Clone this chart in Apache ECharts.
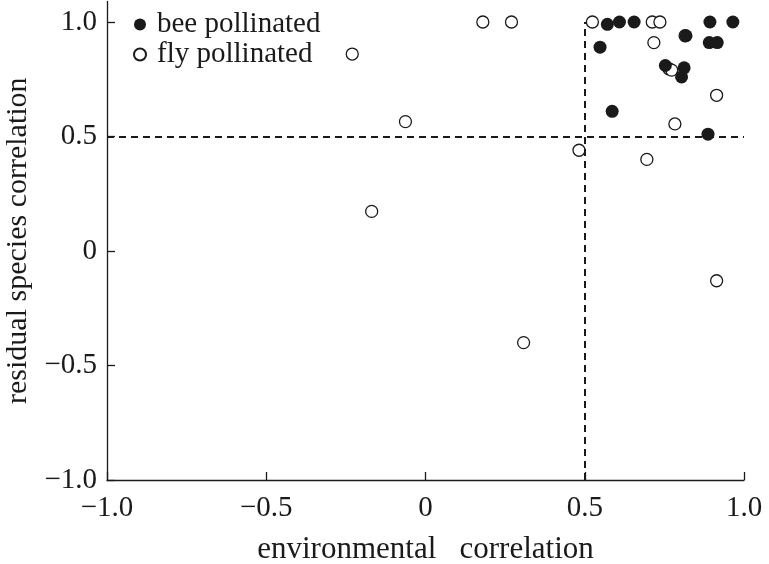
<!DOCTYPE html>
<html>
<head>
<meta charset="utf-8">
<script src="https://cdn.jsdelivr.net/npm/echarts@6/dist/echarts.min.js"></script>
<style>
  html, body { margin: 0; padding: 0; background: #fff; }
  #chart { width: 769px; height: 564px; }
</style>
</head>
<body>
<div id="chart"></div>
<script>
// environmental correlation vs residual species correlation
const bee = [
  [0.571, 0.99], [0.609, 1.0], [0.655, 1.0], [0.893, 1.0], [0.965, 1.0],
  [0.818, 0.94], [0.891, 0.91], [0.916, 0.91], [0.548, 0.89], [0.753, 0.81],
  [0.812, 0.80], [0.804, 0.76], [0.586, 0.61], [0.887, 0.51]
];
const fly = [
  [0.18, 1.0], [0.27, 1.0], [0.524, 1.0], [0.712, 1.0], [0.736, 1.0],
  [0.815, 0.94], [0.717, 0.91], [0.765, 0.795], [0.773, 0.79], [0.914, 0.68],
  [0.783, 0.555], [0.482, 0.44], [0.695, 0.40], [0.914, -0.13], [-0.23, 0.86],
  [-0.063, 0.565], [-0.169, 0.173], [0.308, -0.40]
];
const ticks = [-1, -0.5, 0, 0.5, 1];
const threshold = 0.5;

const font = "'Liberation Serif', 'DejaVu Serif', serif";
const ink = "#1a1a1a";

function fmt(v) {
  if (v === 0) return "0";
  return v.toFixed(1).replace("-", "\u2212");
}

let myChart = echarts.init(document.getElementById("chart"));
myChart.setOption({
  animation: false,
  grid: {
    left: 107,
    right: 25,
    top: 1.4,
    bottom: 84,
    containLabel: false,
    outerBoundsMode: "none",
  },
  legend: {
    data: ["bee pollinated", "fly pollinated"],
    orient: "vertical",
    left: 128,
    top: 5,
    itemWidth: 12,
    itemHeight: 12,
    itemGap: 1,
    icon: "circle",
    textStyle: {
      fontFamily: font,
      fontSize: 29,
      color: ink,
      padding: [0, 0, 0, 6],
      lineHeight: 29,
    },
  },
  xAxis: {
    type: "value",
    min: -1,
    max: 1,
    interval: 0.5,
    name: "environmental   correlation",
    nameLocation: "middle",
    nameGap: 54,
    nameTextStyle: { fontFamily: font, fontSize: 31, color: ink },
    splitLine: { show: false },
    axisLine: { onZero: false, lineStyle: { color: ink, width: 1.3 } },
    axisTick: { inside: true, length: 8, lineStyle: { color: ink, width: 1.3 } },
    axisLabel: {
      fontFamily: font,
      fontSize: 29,
      color: ink,
      margin: 14,
      formatter: fmt,
    },
  },
  yAxis: {
    type: "value",
    min: -1,
    max: 1.09,
    name: "residual species correlation",
    nameLocation: "middle",
    nameGap: 68,
    nameTextStyle: { fontFamily: font, fontSize: 30, color: ink },
    splitLine: { show: false },
    axisLine: { onZero: false, lineStyle: { color: ink, width: 1.3 } },
    axisTick: {
      inside: true,
      length: 8,
      customValues: ticks,
      lineStyle: { color: ink, width: 1.3 },
    },
    axisLabel: {
      fontFamily: font,
      fontSize: 29,
      color: ink,
      margin: 10,
      customValues: ticks,
      formatter: fmt,
    },
  },
  series: [
    {
      // threshold lines
      type: "scatter",
      data: [],
      silent: true,
      markLine: {
        silent: true,
        symbol: "none",
        label: { show: false },
        lineStyle: { color: ink, width: 2, type: [7, 5], opacity: 1 },
        data: [
          { yAxis: threshold },
          [{ coord: [threshold, -1] }, { coord: [threshold, 1] }],
        ],
      },
    },
    {
      name: "fly pollinated",
      type: "scatter",
      data: fly,
      symbolSize: 12,
      itemStyle: { color: "#fff", borderColor: ink, borderWidth: 1.3, opacity: 1 },
    },
    {
      name: "bee pollinated",
      type: "scatter",
      data: bee,
      symbolSize: 13,
      itemStyle: { color: ink, opacity: 1 },
    },
  ],
});
</script>
</body>
</html>
